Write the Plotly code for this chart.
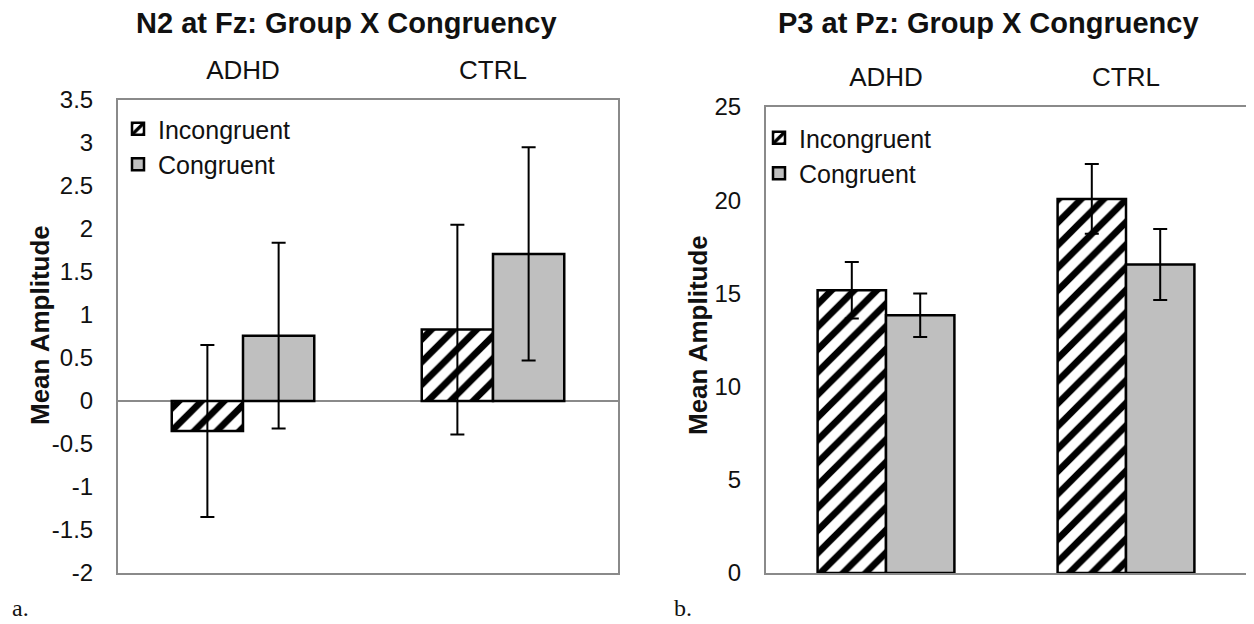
import plotly.graph_objects as go

# The page body has an 8px margin; the figure is sized to fill the rest of the window
OFF = 8
W, H = 1254 - OFF, 624 - OFF

groups = ["ADHD", "CTRL"]
series_names = ["Incongruent", "Congruent"]

# Panel a: N2 at Fz
n2_incong = [-0.35, 0.83]
n2_incong_err = [1.00, 1.22]
n2_cong = [0.76, 1.71]
n2_cong_err = [1.08, 1.24]
n2_ticks = [-2, -1.5, -1, -0.5, 0, 0.5, 1, 1.5, 2, 2.5, 3, 3.5]
n2_ticktext = ["-2", "-1.5", "-1", "-0.5", "0", "0.5", "1", "1.5", "2", "2.5", "3", "3.5"]

# Panel b: P3 at Pz
p3_incong = [15.17, 20.07]
p3_incong_err = [1.51, 1.87]
p3_cong = [13.83, 16.55]
p3_cong_err = [1.17, 1.90]
p3_ticks = [0, 5, 10, 15, 20, 25]
p3_ticktext = ["0", "5", "10", "15", "20", "25"]

titles = ["N2 at Fz: Group X Congruency", "P3 at Pz: Group X Congruency"]
panel_labels = ["a.", "b."]
ytitle = "Mean Amplitude"

FONT = "Liberation Sans, Arial, sans-serif"
GRAY = "#bfbfbf"
FRAME = "#8a8a8a"
TXT = "#111111"


def px(x):
    return (x - OFF) / W


def py(y):
    return 1 - (y - OFF) / H


fig = go.Figure()

hatch = dict(shape="/", fgcolor="black", bgcolor="white", fgopacity=1,
             size=16, solidity=0.42, fillmode="replace")


def add_panel(inc, inc_err, con, con_err, xa, ya, leg):
    fig.add_trace(go.Bar(
        x=groups, y=inc, name=series_names[0], xaxis=xa, yaxis=ya, legend=leg,
        marker=dict(color="white", pattern=hatch, line=dict(color="black", width=2.5)),
        error_y=dict(type="data", array=inc_err, color="black", thickness=2, width=7),
    ))
    fig.add_trace(go.Bar(
        x=groups, y=con, name=series_names[1], xaxis=xa, yaxis=ya, legend=leg,
        marker=dict(color=GRAY, line=dict(color="black", width=2.5)),
        error_y=dict(type="data", array=con_err, color="black", thickness=2, width=7),
    ))


add_panel(n2_incong, n2_incong_err, n2_cong, n2_cong_err, "x", "y", "legend")
add_panel(p3_incong, p3_incong_err, p3_cong, p3_cong_err, "x2", "y2", "legend2")

axis_common = dict(showline=True, mirror=True, linecolor=FRAME, linewidth=2,
                   showgrid=False, ticks="", fixedrange=True, automargin=False)

fig.update_layout(
    width=W, height=H,
    margin=dict(l=0, r=0, t=0, b=0, autoexpand=False),
    paper_bgcolor="white", plot_bgcolor="white",
    barmode="group", bargap=0.43, bargroupgap=0,
    font=dict(family=FONT, color=TXT),
    xaxis=dict(domain=[px(118), px(618)], anchor="y", side="top",
               tickfont=dict(size=26, color=TXT), ticklabelstandoff=9, **axis_common),
    yaxis=dict(domain=[py(573), py(100)], anchor="x", range=[-2, 3.5],
               tickvals=n2_ticks, ticktext=n2_ticktext,
               tickfont=dict(size=24, color=TXT), ticklabelstandoff=18,
               zeroline=True, zerolinecolor=FRAME, zerolinewidth=2, **axis_common),
    xaxis2=dict(domain=[px(766), px(1246)], anchor="y2", side="top",
                tickfont=dict(size=26, color=TXT), ticklabelstandoff=9, **axis_common),
    yaxis2=dict(domain=[py(573), py(107)], anchor="x2", range=[0, 25],
                tickvals=p3_ticks, ticktext=p3_ticktext,
                tickfont=dict(size=24, color=TXT), ticklabelstandoff=18,
                zeroline=False, **axis_common),
    legend=dict(x=px(118), y=py(106), xanchor="left", yanchor="top",
                bgcolor="rgba(0,0,0,0)", font=dict(size=25, color=TXT)),
    legend2=dict(x=px(759), y=py(115), xanchor="left", yanchor="top",
                 bgcolor="rgba(0,0,0,0)", font=dict(size=25, color=TXT)),
    showlegend=True,
)

annos = [
    dict(text="<b>%s</b>" % titles[0], x=px(347), y=py(23), font=dict(size=29, color=TXT)),
    dict(text="<b>%s</b>" % titles[1], x=px(988), y=py(23), font=dict(size=29, color=TXT)),
    dict(text="<b>%s</b>" % ytitle, x=px(40), y=py(325), textangle=-90, font=dict(size=26, color=TXT)),
    dict(text="<b>%s</b>" % ytitle, x=px(698), y=py(335), textangle=-90, font=dict(size=26, color=TXT)),
    dict(text=panel_labels[0], x=px(10), y=py(608), xanchor="left",
         font=dict(size=24, family="Liberation Serif, Times New Roman, serif", color=TXT)),
    dict(text=panel_labels[1], x=px(672), y=py(608), xanchor="left",
         font=dict(size=24, family="Liberation Serif, Times New Roman, serif", color=TXT)),
]
for a in annos:
    a.setdefault("xanchor", "center")
    fig.add_annotation(xref="paper", yref="paper", showarrow=False, yanchor="middle", **a)

fig.write_html("out.html")
